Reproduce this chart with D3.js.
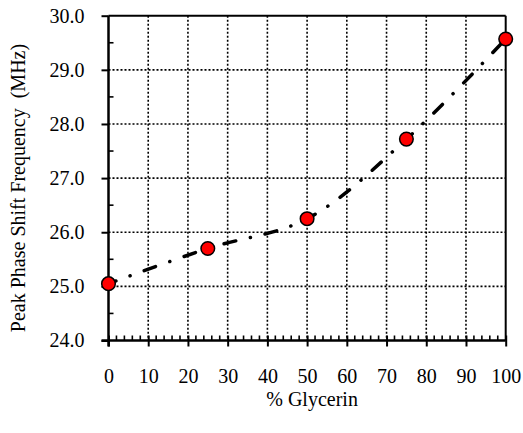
<!DOCTYPE html>
<html>
<head>
<meta charset="utf-8">
<script src="https://cdn.jsdelivr.net/npm/d3@7"></script>
<style>
  body { margin: 0; background: #fff; }
</style>
</head>
<body>
<div id="chart"></div>
<script>
var glycerin = [0, 25, 50, 75, 100];
var peakFreq = [25.05, 25.70, 26.25, 27.72, 29.57];
var xTicks = [0, 10, 20, 30, 40, 50, 60, 70, 80, 90, 100];
var yTicks = [24, 25, 26, 27, 28, 29, 30];
var xLabel = "% Glycerin";
var yLabel = "Peak Phase Shift Frequency\u00a0\u00a0(MHz)";

var serif = "'Liberation Serif', 'Times New Roman', Times, 'DejaVu Serif', serif";
var width = 523, height = 433;
var margin = {top: 15.7, right: 17.3, bottom: 92.5, left: 108.5};
var plotW = width - margin.left - margin.right;
var plotH = height - margin.top - margin.bottom;

var svg = d3.select("#chart")
    .append("svg")
    .attr("width", width)
    .attr("height", height);

var g = svg.append("g")
    .attr("transform", `translate(${margin.left},${margin.top})`);

var x = d3.scaleLinear().domain([0, 100]).range([0, plotW]);
var y = d3.scaleLinear().domain([24, 30]).range([plotH, 0]);

// dotted grid
g.append("g")
    .selectAll("line")
    .data(xTicks.filter(d => d > 0 && d < 100))
    .enter().append("line")
    .attr("x1", d => x(d)).attr("x2", d => x(d))
    .attr("y1", 0).attr("y2", plotH)
    .attr("stroke", "#000")
    .attr("stroke-width", 1.6)
    .attr("stroke-dasharray", "2,2");
g.append("g")
    .selectAll("line")
    .data(yTicks.filter(d => d > 24 && d < 30))
    .enter().append("line")
    .attr("x1", 0).attr("x2", plotW)
    .attr("y1", d => y(d)).attr("y2", d => y(d))
    .attr("stroke", "#000")
    .attr("stroke-width", 1.6)
    .attr("stroke-dasharray", "2,2");

// frame top / right
g.append("line")
    .attr("x1", 0).attr("x2", plotW).attr("y1", 0).attr("y2", 0)
    .attr("stroke", "#000").attr("stroke-width", 2);
g.append("line")
    .attr("x1", plotW).attr("x2", plotW).attr("y1", 0).attr("y2", plotH)
    .attr("stroke", "#000").attr("stroke-width", 2);

// minor ticks (inside)
g.append("g")
    .selectAll("line")
    .data(d3.range(0, 101, 2).filter(d => d % 10 != 0))
    .enter().append("line")
    .attr("x1", d => x(d)).attr("x2", d => x(d))
    .attr("y1", plotH).attr("y2", plotH - 5)
    .attr("stroke", "#000").attr("stroke-width", 1.6);
g.append("g")
    .selectAll("line")
    .data(d3.range(24.5, 30, 1))
    .enter().append("line")
    .attr("x1", 0).attr("x2", 5)
    .attr("y1", d => y(d)).attr("y2", d => y(d))
    .attr("stroke", "#000").attr("stroke-width", 1.6);

// x axis
var xAxis = g.append("g")
    .attr("transform", `translate(0,${plotH})`)
    .call(d3.axisBottom(x).tickValues(xTicks).tickFormat(d3.format("d"))
        .tickSizeInner(6).tickSizeOuter(0).tickPadding(22));
xAxis.attr("font-family", serif).attr("font-size", 20);
xAxis.select(".domain").attr("stroke-width", 2.5).attr("d", `M-7,0H${plotW}`);
xAxis.selectAll(".tick line").attr("y1", -5).attr("stroke-width", 2);

// y axis
var yAxis = g.append("g")
    .call(d3.axisLeft(y).tickValues(yTicks).tickFormat(d3.format(".1f"))
        .tickSizeInner(7).tickSizeOuter(0).tickPadding(17));
yAxis.attr("font-family", serif).attr("font-size", 20);
yAxis.select(".domain").attr("stroke-width", 2.5).attr("d", `M0,0V${plotH + 6}`);
yAxis.selectAll(".tick line").attr("stroke-width", 2);

// smoothed dash-dot line
var pts = glycerin.map((d, i) => [d, peakFreq[i]]);
var line = d3.line()
    .x(d => x(d[0]))
    .y(d => y(d[1]))
    .curve(d3.curveCatmullRom.alpha(0.5));
g.append("path")
    .datum(pts)
    .attr("d", line)
    .attr("fill", "none")
    .attr("stroke", "#000")
    .attr("stroke-width", 3.5)
    .attr("stroke-linecap", "round")
    .attr("stroke-dasharray", "12,15,0.1,15")
    .attr("stroke-dashoffset", 4);

// markers
g.append("g")
    .selectAll("circle")
    .data(pts)
    .enter().append("circle")
    .attr("cx", d => x(d[0]))
    .attr("cy", d => y(d[1]))
    .attr("r", 6.8)
    .attr("fill", "#ff0000")
    .attr("stroke", "#000")
    .attr("stroke-width", 1.5);

// axis titles
svg.append("text")
    .attr("x", margin.left + plotW / 2 + 5)
    .attr("y", 406)
    .attr("text-anchor", "middle")
    .attr("font-family", serif)
    .attr("font-size", 20)
    .text(xLabel);

svg.append("text")
    .attr("transform", `translate(25,${188}) rotate(-90)`)
    .attr("text-anchor", "middle")
    .attr("font-family", serif)
    .attr("font-size", 20)
    .text(yLabel);
</script>
</body>
</html>
